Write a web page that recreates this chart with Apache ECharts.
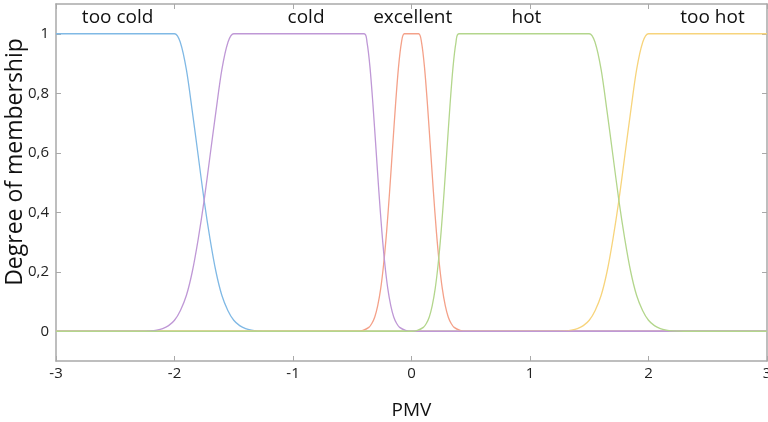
<!DOCTYPE html>
<html>
<head>
<meta charset="utf-8">
<script src="https://cdn.jsdelivr.net/npm/echarts@6/dist/echarts.min.js"></script>
<style>
  html, body { margin: 0; padding: 0; background: #fff; }
  #chart { width: 768px; height: 422px; }
</style>
</head>
<body>
<div id="chart"></div>
<script>
// membership curves, [PMV, degree]
const tooCold = [[-3, 1], [-2, 1], [-1.95, 0.97], [-1.9, 0.88], [-1.85, 0.74], [-1.8, 0.59], [-1.75, 0.44],
  [-1.7, 0.31], [-1.65, 0.2], [-1.6, 0.12], [-1.55, 0.07], [-1.5, 0.037], [-1.45, 0.019], [-1.4, 0.009],
  [-1.35, 0.004], [-1.3, 0.0016], [-1.2, 0], [3, 0]];
const cold = [[-3, 0], [-2.3, 0], [-2.2, 0.0016], [-2.15, 0.004], [-2.1, 0.009], [-2.05, 0.019], [-2, 0.037],
  [-1.95, 0.07], [-1.9, 0.12], [-1.85, 0.2], [-1.8, 0.31], [-1.75, 0.44], [-1.7, 0.59], [-1.65, 0.74],
  [-1.6, 0.88], [-1.55, 0.97], [-1.5, 1], [-0.4, 1], [-0.375, 0.97], [-0.35, 0.886], [-0.325, 0.76],
  [-0.3, 0.615], [-0.275, 0.468], [-0.25, 0.335], [-0.225, 0.226], [-0.2, 0.143], [-0.175, 0.086],
  [-0.15, 0.048], [-0.125, 0.026], [-0.1, 0.013], [-0.05, 0.003], [0, 0], [3, 0]];
const excellent = [[-3, 0], [-0.46, 0], [-0.41, 0.003], [-0.36, 0.013], [-0.335, 0.026], [-0.31, 0.048],
  [-0.285, 0.086], [-0.26, 0.143], [-0.235, 0.226], [-0.21, 0.335], [-0.185, 0.468], [-0.16, 0.615],
  [-0.135, 0.76], [-0.11, 0.886], [-0.085, 0.97], [-0.06, 1], [0.06, 1], [0.085, 0.97], [0.11, 0.886],
  [0.135, 0.76], [0.16, 0.615], [0.185, 0.468], [0.21, 0.335], [0.235, 0.226], [0.26, 0.143],
  [0.285, 0.086], [0.31, 0.048], [0.335, 0.026], [0.36, 0.013], [0.41, 0.003], [0.46, 0], [3, 0]];
const hot = [[-3, 0], [0, 0], [0.05, 0.003], [0.1, 0.013], [0.125, 0.026], [0.15, 0.048], [0.175, 0.086],
  [0.2, 0.143], [0.225, 0.226], [0.25, 0.335], [0.275, 0.468], [0.3, 0.615], [0.325, 0.76], [0.35, 0.886],
  [0.375, 0.97], [0.4, 1], [1.5, 1], [1.55, 0.97], [1.6, 0.88], [1.65, 0.74], [1.7, 0.59], [1.75, 0.44],
  [1.8, 0.31], [1.85, 0.2], [1.9, 0.12], [1.95, 0.07], [2, 0.037], [2.05, 0.019], [2.1, 0.009],
  [2.15, 0.004], [2.2, 0.0016], [2.3, 0], [3, 0]];
const tooHot = [[-3, 0], [1.2, 0], [1.3, 0.0016], [1.35, 0.004], [1.4, 0.009], [1.45, 0.019], [1.5, 0.037],
  [1.55, 0.07], [1.6, 0.12], [1.65, 0.2], [1.7, 0.31], [1.75, 0.44], [1.8, 0.59], [1.85, 0.74],
  [1.9, 0.88], [1.95, 0.97], [2, 1], [3, 1]];

const setNames = ['too cold', 'cold', 'excellent', 'hot', 'too hot'];
const setLabelX = [-2.48, -0.89, 0.01, 0.97, 2.54];
const setLabelY = 1.054;

const yTicks = [0, 0.2, 0.4, 0.6, 0.8, 1];

const axisGray = '#a9a9a9';
const textColor = '#111';
const font = '"Open Sans", sans-serif';

function line(name, data, color) {
  return {
    name: name, type: 'line', data: data, showSymbol: false, symbol: 'none',
    smooth: 0.3, lineStyle: { color: color, width: 1.3 }
  };
}

const chart = echarts.init(document.getElementById('chart'));
chart.setOption({
  animation: false,
  grid: { left: 56, right: 1, top: 4, bottom: 61, outerBoundsMode: 'none', containLabel: false },
  // y-axis title sits a bit above the axis middle in the original
  graphic: [{
    type: 'text', x: 15, y: 162, rotation: Math.PI / 2,
    style: {
      text: 'Degree of membership', fontFamily: font, fontSize: 23, fill: textColor,
      align: 'center', verticalAlign: 'middle'
    }
  }],
  xAxis: [{
    type: 'value', min: -3, max: 3, interval: 1,
    name: 'PMV', nameLocation: 'middle', nameGap: 40,
    nameTextStyle: { fontFamily: font, fontSize: 19, color: textColor },
    axisLine: { onZero: false, lineStyle: { color: axisGray, width: 1.5 } },
    axisTick: { inside: true, length: 5, lineStyle: { color: axisGray } },
    axisLabel: { fontFamily: font, fontSize: 15, color: '#222', margin: 5 },
    splitLine: { show: false }
  }, {
    type: 'value', min: -3, max: 3, interval: 1, position: 'top',
    axisLine: { show: true, onZero: false, lineStyle: { color: axisGray, width: 1.5 } },
    axisTick: { inside: true, length: 5, lineStyle: { color: axisGray } },
    axisLabel: { show: false }, splitLine: { show: false }
  }],
  yAxis: [{
    type: 'value', min: -0.1, max: 1.1,
    axisLine: { show: true, onZero: false, lineStyle: { color: axisGray, width: 1.5 } },
    axisTick: { inside: true, length: 5, customValues: yTicks, lineStyle: { color: axisGray } },
    axisLabel: {
      customValues: yTicks, fontFamily: font, fontSize: 15, color: '#222', margin: 7,
      formatter: v => String(Math.round(v * 10) / 10).replace('.', ',')
    },
    splitLine: { show: false }
  }, {
    type: 'value', min: -0.1, max: 1.1, position: 'right',
    axisLine: { show: true, onZero: false, lineStyle: { color: axisGray, width: 1.5 } },
    axisTick: { show: true, inside: true, length: 5, customValues: yTicks, lineStyle: { color: axisGray } },
    axisLabel: { show: false }, splitLine: { show: false }
  }],
  series: [
    line('too cold', tooCold, '#80b9e5'),
    line('excellent', excellent, '#f4a189'),
    line('too hot', tooHot, '#f7d47c'),
    line('cold', cold, '#bf98d6'),
    line('hot', hot, '#b3d68c'),
    {
      type: 'scatter', symbolSize: 0, silent: true,
      itemStyle: { opacity: 1 },
      data: setNames.map((n, i) => [setLabelX[i], setLabelY, n]),
      label: {
        show: true, position: 'inside', formatter: p => p.data[2], opacity: 1,
        fontFamily: font, fontSize: 19, color: textColor
      }
    }
  ]
});
</script>
</body>
</html>
